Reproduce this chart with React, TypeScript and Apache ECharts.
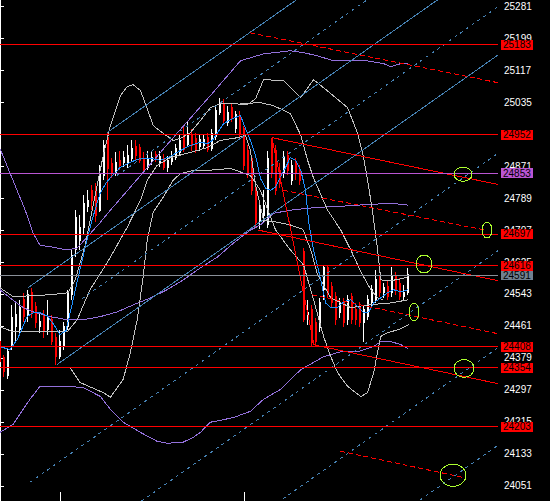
import React, { useEffect, useRef } from "react";
import * as echarts from "echarts";

// ---- axis / layout data ----
const priceTicks = [25281, 25199, 25117, 25035, 24953, 24871, 24789, 24707, 24625, 24543, 24461, 24379, 24297, 24215, 24133, 24051];
const sessionTickBars = [15, 61];
const slotCount = 125;
const priceMin = 24011.9;
const priceMax = 25297.2;

// ---- candles [open, close, low, high] ----
const candles = [
  [24421, 24370, 24349, 24431], [24380, 24344, 24329, 24387], [24334, 24395, 24324, 24405], [24413, 24482, 24400, 24515],
  [24459, 24490, 24421, 24523], [24451, 24508, 24439, 24528], [24528, 24485, 24472, 24546], [24490, 24541, 24472, 24554],
  [24546, 24495, 24482, 24559], [24510, 24469, 24456, 24523], [24459, 24472, 24444, 24495], [24485, 24446, 24431, 24502],
  [24451, 24485, 24439, 24528], [24477, 24421, 24413, 24490], [24431, 24382, 24362, 24444], [24382, 24421, 24375, 24451],
  [24408, 24459, 24400, 24472], [24459, 24546, 24451, 24554], [24541, 24643, 24528, 24656], [24656, 24740, 24638, 24758],
  [24681, 24714, 24656, 24745], [24714, 24776, 24694, 24796], [24768, 24783, 24753, 24809], [24809, 24783, 24758, 24822],
  [24809, 24745, 24727, 24827], [24758, 24852, 24753, 24873], [24847, 24924, 24835, 24937], [24944, 24865, 24783, 24955],
  [24878, 24855, 24840, 24891], [24855, 24881, 24845, 24906], [24886, 24873, 24860, 24911], [24881, 24893, 24870, 24911],
  [24878, 24898, 24865, 24924], [24891, 24916, 24881, 24937], [24921, 24898, 24886, 24937], [24919, 24886, 24878, 24929],
  [24891, 24860, 24850, 24906], [24868, 24891, 24860, 24911], [24886, 24893, 24873, 24911], [24901, 24891, 24881, 24911],
  [24878, 24896, 24870, 24909], [24891, 24868, 24860, 24901], [24868, 24886, 24857, 24898], [24883, 24898, 24873, 24911],
  [24893, 24916, 24886, 24929], [24906, 24937, 24898, 24950], [24950, 24914, 24906, 24975], [24927, 24950, 24919, 24983],
  [24952, 24924, 24911, 24967], [24942, 24911, 24904, 24955], [24921, 24939, 24911, 24952], [24924, 24939, 24916, 24950],
  [24944, 24914, 24906, 24955], [24916, 24955, 24909, 24967], [24947, 25013, 24939, 25026], [25008, 25031, 25001, 25047],
  [25031, 24988, 24978, 25044], [24983, 25008, 24973, 25024], [25021, 24995, 24983, 25034], [24967, 25003, 24957, 25013],
  [25001, 24955, 24944, 25013], [24967, 24873, 24860, 24975], [24911, 24855, 24840, 24924], [24891, 24809, 24796, 24898],
  [24817, 24727, 24712, 24829], [24732, 24766, 24709, 24783], [24745, 24771, 24727, 24809], [24720, 24891, 24712, 24911],
  [24937, 24852, 24840, 24944], [24911, 24809, 24796, 24924], [24860, 24827, 24814, 24878], [24852, 24893, 24840, 24911],
  [24898, 24860, 24847, 24911], [24835, 24873, 24822, 24886], [24878, 24855, 24835, 24891], [24860, 24835, 24822, 24873],
  [24651, 24477, 24472, 24661], [24477, 24495, 24464, 24528], [24502, 24418, 24408, 24515], [24469, 24421, 24413, 24482],
  [24456, 24520, 24446, 24533], [24554, 24610, 24528, 24617], [24610, 24541, 24533, 24617], [24561, 24520, 24508, 24574],
  [24536, 24477, 24464, 24548], [24495, 24520, 24482, 24533], [24520, 24469, 24459, 24533], [24477, 24528, 24464, 24541],
  [24536, 24477, 24467, 24546], [24502, 24477, 24464, 24515], [24510, 24469, 24459, 24523], [24469, 24502, 24421, 24515],
  [24485, 24528, 24477, 24541], [24520, 24554, 24508, 24566], [24528, 24579, 24520, 24605], [24579, 24546, 24536, 24592],
  [24546, 24559, 24533, 24571], [24561, 24536, 24528, 24579], [24546, 24587, 24536, 24612], [24587, 24554, 24541, 24600],
  [24571, 24536, 24528, 24584], [24536, 24548, 24528, 24566], [24548, 24592, 24541, 24610],
];

// ---- indicator curves [bar, price] ----
const maFast = [[0,24408],[2.5,24400],[4.3,24426],[6.8,24485],[8.3,24495],[10,24495],[11.8,24487],[13.3,24467],[15,24439],[16.5,24449],[18,24515],[19.5,24584],[21.3,24663],[23,24732],[25,24801],[26.6,24829],[28.1,24847],[30.1,24868],[32.6,24881],[35.1,24891],[37.6,24891],[40.1,24886],[42.6,24896],[45.1,24911],[47.6,24924],[50.1,24932],[51.9,24929],[53.1,24937],[54.4,24957],[55.9,24980],[58.1,24993],[60.1,25001],[61.4,24967],[62.6,24937],[63.9,24898],[65.1,24840],[66.4,24814],[67.6,24809],[68.9,24817],[70.1,24842],[71.4,24868],[72.6,24893],[73.9,24886],[75.2,24860],[76.4,24809],[77.2,24725],[78.4,24656],[80.2,24579],[81.4,24520],[82.7,24508],[84.4,24508],[85.9,24523],[87.7,24528],[89.4,24510],[90.9,24495],[92.2,24497],[93.4,24520],[95.2,24533],[96.9,24546],[98.4,24554],[100.2,24548],[102,24554]];

const purpleUpper = [[0,24916],[6.3,24758],[8.3,24699],[10,24668],[13.3,24663],[16.8,24656],[19.3,24661],[21.8,24689],[25.1,24727],[27.6,24758],[32.6,24817],[43.8,24950],[52.6,25052],[60.1,25141],[62.6,25149],[65.9,25159],[72.6,25167],[75.9,25162],[79.4,25154],[83.4,25141],[91.9,25141],[95.9,25134],[97.7,25126],[100.2,25134],[102,25134]];
const purpleMid = [[0,24554],[2.5,24533],[5.8,24508],[8.3,24497],[12.5,24485],[16.8,24477],[20.8,24477],[25.1,24485],[29.3,24497],[33.3,24515],[37.6,24533],[41.8,24554],[45.8,24579],[50.1,24610],[54.4,24638],[58.4,24674],[62.6,24707],[65.1,24720],[68.4,24750],[72.6,24758],[76.9,24763],[80.9,24766],[85.2,24768],[89.4,24771],[93.4,24773],[97.7,24776],[102,24771]];
const purpleLower = [[0,24188],[3.3,24209],[7.5,24273],[10,24306],[16.8,24306],[20.8,24303],[25.1,24280],[27.6,24247],[30.8,24214],[35.1,24188],[39.3,24165],[41.8,24160],[45.8,24163],[48.3,24175],[50.1,24188],[52.6,24214],[55.1,24219],[58.4,24226],[62.6,24242],[65.9,24273],[70.1,24298],[75.2,24349],[80.9,24382],[85.2,24395],[89.4,24395],[93.4,24408],[95.2,24421],[97.7,24421],[100.2,24413],[102,24403]];

const silverUpper = [[0,24559],[3.3,24536],[12.5,24541],[17,24546],[18.8,24579],[21.3,24668],[23.8,24796],[25.8,24898],[27.6,24975],[30.1,25052],[31.8,25075],[33.3,25080],[35.1,25065],[36.8,25019],[38.3,24975],[40.8,24955],[43.3,24937],[45.1,24942],[47.6,24957],[50.1,24988],[52.6,25021],[55.1,25031],[58.4,25031],[61.9,25029],[63.9,25044],[65.9,25093],[70.9,25090],[75.2,25047],[78.4,25093],[82.7,25057],[86.9,25021],[89.4,24955],[90.9,24893],[91.9,24835],[93.2,24750],[94.4,24656],[95.2,24579],[97.7,24577],[100.2,24582],[102,24587]];
const silverUpper2 = [[60.1,25031],[65.1,25034],[68.4,25026],[72.6,25006],[75.2,24950],[76.9,24886],[78.4,24840],[81.9,24758],[85.2,24707],[87.7,24656],[90.2,24600],[92.7,24554],[94.4,24533],[95.7,24528]];
const silverLower = [[0,24459],[3.3,24446],[16.8,24446],[19.3,24477],[22.5,24554],[26.8,24623],[31.8,24714],[35.1,24783],[36.8,24835],[39.3,24873],[42.6,24893],[47.6,24906],[51.9,24919],[55.1,24937],[59.4,24944],[61.4,24950],[62.6,24911],[63.9,24822],[65.9,24732],[69.4,24727],[72.6,24720],[75.7,24709],[77.7,24656],[79.4,24592],[82.7,24533],[87.7,24508],[91.9,24515],[97.7,24520],[102,24528]];
const silverLower2 = [[0,24354],[17.5,24354],[20,24316],[25.8,24290],[27.6,24278],[30.8,24324],[32.6,24393],[34.3,24477],[35.8,24587],[36.8,24681],[38.3,24753],[40.8,24791],[43.3,24835],[45.1,24852],[48.3,24860],[51.9,24860],[57.6,24865],[62.6,24847],[65.1,24809],[68.9,24707],[72.6,24656],[75.9,24617],[78.4,24528],[80.9,24434],[82.7,24382],[84.4,24341],[86.9,24306],[90.2,24280],[91.9,24290],[93.4,24341],[94.4,24393],[95.2,24434],[96.9,24444],[99.5,24451],[102.2,24464]];

// ---- drawn objects ----
const redLevels = [25183, 24952, 24697, 24616, 24408, 24354, 24203];
const orchidLevels = [24853];
const greyLevels = [24591];
// [bar1, price1, bar2, price2]
const channelSolid = [[26.75,24957,77.5,25322],[7,24559,112.5,25320],[14.25,24362,124.5,25156]];
const channelDotted = [[29.25,24847,95,25321],[20.5,24531,124.5,25280],[7.5,24060,124.5,24904],[32.5,23991,124.5,24654],[65,23976,124.5,24405],[105,24014,124.5,24155]];
const forkSolid = [[68,24944,124.5,24824],[64.5,24707,124.5,24577],[78.25,24413,124.5,24313],[68,24944,78.5,24413]];
const forkDashed = [[62.5,25213,124.5,25085],[70.75,24809,121.25,24707],[78,24541,124.5,24441],[85,24140,115.5,24073]];
const markedSpots = [[115.75,24850],[121.75,24707],[106,24620],[103.5,24497],[116,24352],[113.25,24078]];
const spotRadii = [[9,7],[5,8],[8,9],[5,9],[10,9],[13,11]];

const FONT = "'Liberation Sans', Arial, sans-serif";
const CRISP_CSS = ".mt-chart svg path, .mt-chart svg rect, .mt-chart svg line, .mt-chart svg ellipse { shape-rendering: crispEdges; }";

export default function App() {
  const ref = useRef<HTMLDivElement>(null);
  useEffect(() => {
    document.body.style.margin = "0";
    document.body.style.background = "#000";
    const chart = echarts.init(ref.current as HTMLDivElement, undefined, { renderer: "svg" });

    const curve = (data: number[][], color: string, type: any = "solid", z = 3) => ({
      type: "line", xAxisIndex: 1, yAxisIndex: 0, data, showSymbol: false, symbol: "none",
      silent: true, animation: false, z, lineStyle: { color, width: 1, type },
    });
    const seg = (s: number[]) => [[s[0], s[1]], [s[2], s[3]]];
    const levelSeries = (values: number[], lineColor: string, boxColor: string) => ({
      type: "line", xAxisIndex: 1, yAxisIndex: 0, data: [], silent: true, z: 4,
      color: lineColor,
      markLine: {
        silent: true, symbol: ["none", "none"], animation: false,
        lineStyle: { color: lineColor, width: 1, type: "solid", opacity: 1 },
        emphasis: { disabled: true },
        label: {
          show: true, position: "end", distance: 3,
          formatter: (p: any) => String(p.value),
          color: "#000", backgroundColor: boxColor, fontSize: 10, lineHeight: 10,
          padding: [0, 2, 0, 2], fontFamily: FONT,
        },
        data: values.map((v) => ({ yAxis: v })),
      },
    });

    const series: any[] = [
      {
        type: "candlestick", xAxisIndex: 0, yAxisIndex: 0, data: candles, barWidth: 2, z: 2,
        silent: true, animation: false,
        itemStyle: { color: "#FFFFFF", color0: "#FF0000", borderColor: "#FFFFFF", borderColor0: "#FF0000", borderWidth: 1 },
      },
      curve(purpleUpper, "#9370DB"),
      curve(purpleMid, "#9370DB"),
      curve(purpleLower, "#9370DB"),
      curve(silverUpper, "#C0C0C0"),
      curve(silverUpper2, "#C0C0C0"),
      curve(silverLower, "#C0C0C0"),
      curve(silverLower2, "#C0C0C0"),
      curve(maFast, "#1E90FF"),
      ...channelSolid.map((s) => curve(seg(s), "#4682B4", "solid", 4)),
      ...channelDotted.map((s) => curve(seg(s), "#4682B4", [3, 4], 4)),
      ...forkSolid.map((s) => curve(seg(s), "#FF0000", "solid", 4)),
      ...forkDashed.map((s) => curve(seg(s), "#FF0000", [5, 3], 4)),
      levelSeries(greyLevels, "#8A9099", "#708090"),
      levelSeries(orchidLevels, "#BA55D3", "#BA55D3"),
      levelSeries(redLevels, "#FF0000", "#FF0000"),
      {
        type: "custom", xAxisIndex: 1, yAxisIndex: 0, silent: true, z: 5, clip: false,
        data: markedSpots.map((p, i) => [p[0], p[1], i]),
        renderItem: (_params: any, api: any) => {
          const pt = api.coord([api.value(0), api.value(1)]);
          const r = spotRadii[api.value(2)];
          return {
            type: "ellipse",
            shape: { cx: pt[0], cy: pt[1], rx: r[0], ry: r[1] },
            style: { fill: "none", stroke: "#ADFF2F", lineWidth: 1 },
          };
        },
      },
    ];

    chart.setOption({
      animation: false,
      backgroundColor: "#000000",
      grid: { left: -2, right: 52, top: 0, bottom: 0, outerBoundsMode: "none" },
      xAxis: [
        {
          type: "category",
          data: Array.from({ length: slotCount }, (_, i) => String(i)),
          boundaryGap: true,
          axisLine: { show: false },
          axisLabel: { show: false },
          splitLine: { show: false },
          axisTick: {
            show: true, inside: true, length: 9, alignWithLabel: true,
            interval: (idx: number) => sessionTickBars.includes(idx),
            lineStyle: { color: "#FFFFFF", width: 1 },
          },
        },
        { type: "value", min: -0.5, max: slotCount - 0.5, show: false },
      ],
      yAxis: {
        type: "value", position: "right", min: priceMin, max: priceMax,
        splitLine: { show: false },
        axisLine: { show: true, lineStyle: { color: "#FFFFFF", width: 1 } },
        axisTick: { show: true, length: 4, customValues: priceTicks, lineStyle: { color: "#FFFFFF" } },
        axisLabel: {
          show: true, customValues: priceTicks, color: "#FFFFFF", fontSize: 10, margin: 6, fontFamily: FONT,
          formatter: (v: number) => String(v),
        },
      },
      series,
    });
    return () => chart.dispose();
  }, []);
  return (
    <>
      <style>{CRISP_CSS}</style>
      <div
        ref={ref}
        className="mt-chart"
        style={{ position: "fixed", left: 0, top: 0, width: 550, height: 501, background: "#000" }}
      />
    </>
  );
}
